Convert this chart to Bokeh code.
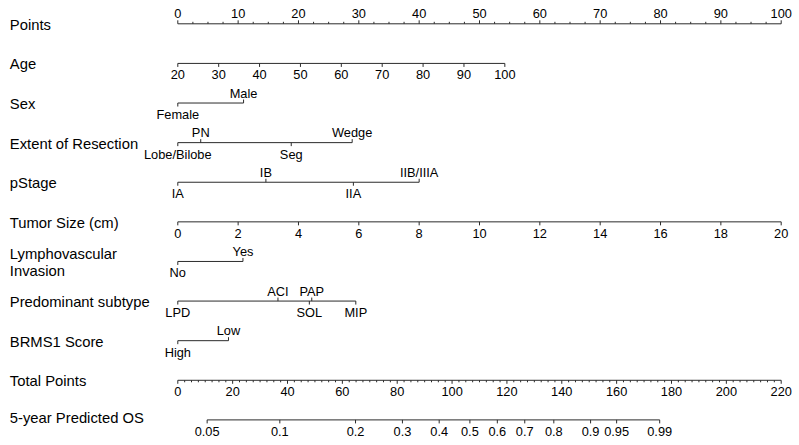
from bokeh.plotting import figure
from bokeh.models import Range1d
from bokeh.embed import file_html
from bokeh.resources import INLINE
from bokeh.core.properties import value

# ---------------- data ----------------
row_labels = ["Points", "Age", "Sex", "Extent of Resection", "pStage",
              "Tumor Size (cm)", "Lymphovascular\nInvasion", "Predominant subtype",
              "BRMS1 Score", "Total Points", "5-year Predicted OS"]

points_ticks = [0, 10, 20, 30, 40, 50, 60, 70, 80, 90, 100]
points_minor_step = 2.5

age_ticks = [20, 30, 40, 50, 60, 70, 80, 90, 100]
age_points_at_ends = [0, 54.2]          # points for age 20 and age 100

sex_levels = ["Female", "Male"]
sex_points = [0, 10.9]

resection_levels = ["Lobe/Bilobe", "PN", "Seg", "Wedge"]
resection_points = [0, 3.8, 18.8, 28.9]

stage_levels = ["IA", "IB", "IIA", "IIB/IIIA"]
stage_points = [0, 14.6, 29.1, 40.0]

tumor_ticks = [0, 2, 4, 6, 8, 10, 12, 14, 16, 18, 20]
tumor_points_at_ends = [0, 100]          # points for 0 cm and 20 cm

lvi_levels = ["No", "Yes"]
lvi_points = [0, 10.8]

subtype_levels = ["LPD", "ACI", "SOL", "PAP", "MIP"]
subtype_points = [0, 16.6, 21.8, 22.2, 29.5]

brms1_levels = ["High", "Low"]
brms1_points = [0, 8.4]

total_ticks = [0, 20, 40, 60, 80, 100, 120, 140, 160, 180, 200, 220]
total_minor_step = 2.5

os_labels = ["0.05", "0.1", "0.2", "0.3", "0.4", "0.5", "0.6", "0.7", "0.8", "0.9", "0.95", "0.99"]
os_total_points = [10.7, 37.2, 64.8, 81.9, 95.3, 106.5, 116.5, 126.5, 137.1, 150.5, 160.0, 175.7]

# ---------------- layout ----------------
W, H = 799, 445
PX_PER_PT = 6.034          # pixels per point on the Points scale
X0 = 177.3                 # pixel of 0 points
ROW0, ROW_STEP = 23.3, 39.61
rows_y = [ROW0 + ROW_STEP * i for i in range(len(row_labels))]

LINE_COLOR = "#2b2b2b"
FONT = "Liberation Sans"
TICK_FS = "12.8px"
LAB_FS = "14.8px"
MAJ, MIN, CAT = 3.5, 2.0, 3.5
ABOVE, BELOW, TOP_AX = 10.0, 11.5, 10.5     # text anchor offsets from the axis line
LAB_OFF = 1.0

p = figure(width=W, height=H, output_backend="svg", toolbar_location=None,
           x_range=Range1d(-X0 / PX_PER_PT, (W - X0) / PX_PER_PT),
           y_range=Range1d(H, 0), min_border=0,
           x_axis_location=None, y_axis_location=None)
p.grid.visible = False
p.outline_line_color = None
p.background_fill_color = "white"
p.border_fill_color = "white"

seg = dict(x0=[], y0=[], x1=[], y1=[])
txt = dict(x=[], y=[], text=[])


def add_seg(x0, y0, x1, y1):
    seg["x0"].append(x0); seg["y0"].append(y0)
    seg["x1"].append(x1); seg["y1"].append(y1)


def add_txt(x, y, t):
    txt["x"].append(x); txt["y"].append(y); txt["text"].append(t)


def lin(v, v0, v1, p0, p1):
    return p0 + (v - v0) * (p1 - p0) / (v1 - v0)


def numeric_axis(y, pts, labels, up, minor_pts=()):
    add_seg(min(pts), y, max(pts), y)
    d = -1 if up else 1
    for xp, lab in zip(pts, labels):
        add_seg(xp, y, xp, y + d * MAJ)
        add_txt(xp, y - TOP_AX if up else y + BELOW, lab)
    for xp in minor_pts:
        add_seg(xp, y, xp, y + d * MIN)


def category_axis(y, levels, pts):
    add_seg(min(pts), y, max(pts), y)
    order = sorted(range(len(pts)), key=lambda i: pts[i])
    for k, i in enumerate(order):
        above = (k % 2 == 1)
        add_seg(pts[i], y, pts[i], y - CAT if above else y + CAT)
        add_txt(pts[i], y - ABOVE if above else y + BELOW, levels[i])


# Points
minor = [i * points_minor_step for i in range(int(100 / points_minor_step) + 1)
         if (i * points_minor_step) % 10 != 0]
numeric_axis(rows_y[0], points_ticks, [str(t) for t in points_ticks], True, minor)
# Age
numeric_axis(rows_y[1], [lin(a, age_ticks[0], age_ticks[-1], *age_points_at_ends) for a in age_ticks],
             [str(a) for a in age_ticks], False)
# Categorical rows
category_axis(rows_y[2], sex_levels, sex_points)
category_axis(rows_y[3], resection_levels, resection_points)
category_axis(rows_y[4], stage_levels, stage_points)
# Tumor size
numeric_axis(rows_y[5], [lin(t, tumor_ticks[0], tumor_ticks[-1], *tumor_points_at_ends) for t in tumor_ticks],
             [str(t) for t in tumor_ticks], False)
category_axis(rows_y[6], lvi_levels, lvi_points)
category_axis(rows_y[7], subtype_levels, subtype_points)
category_axis(rows_y[8], brms1_levels, brms1_points)
# Total points
tmax = total_ticks[-1]
tminor = [lin(i * total_minor_step, 0, tmax, 0, 100) for i in range(int(tmax / total_minor_step) + 1)
          if (i * total_minor_step) % 20 != 0]
numeric_axis(rows_y[9], [lin(t, 0, tmax, 0, 100) for t in total_ticks],
             [str(t) for t in total_ticks], False, tminor)
# 5-year OS
numeric_axis(rows_y[10], [lin(t, 0, tmax, 0, 100) for t in os_total_points], os_labels, False)

p.segment(x0="x0", y0="y0", x1="x1", y1="y1", source=seg, line_color=LINE_COLOR, line_width=1)
p.text(x="x", y="y", text="text", source=txt, text_align="center", text_baseline="middle",
       text_font=value(FONT), text_font_size=TICK_FS, text_color="black")

# Row labels
lx = (9.3 - X0) / PX_PER_PT
lab = dict(x=[], y=[], text=[])
for name, y in zip(row_labels, rows_y):
    if "\n" in name:
        a, b = name.split("\n")
        lab["x"] += [lx, lx]; lab["y"] += [y - 7.5, y + 10.0]; lab["text"] += [a, b]
    else:
        off = -1.5 if name.startswith("5-year") else LAB_OFF
        lab["x"].append(lx); lab["y"].append(y + off); lab["text"].append(name)
p.text(x="x", y="y", text="text", source=lab, text_align="left", text_baseline="middle",
       text_font=value(FONT), text_font_size=LAB_FS, text_color="black")

open("out.html", "w").write(file_html(p, INLINE))
